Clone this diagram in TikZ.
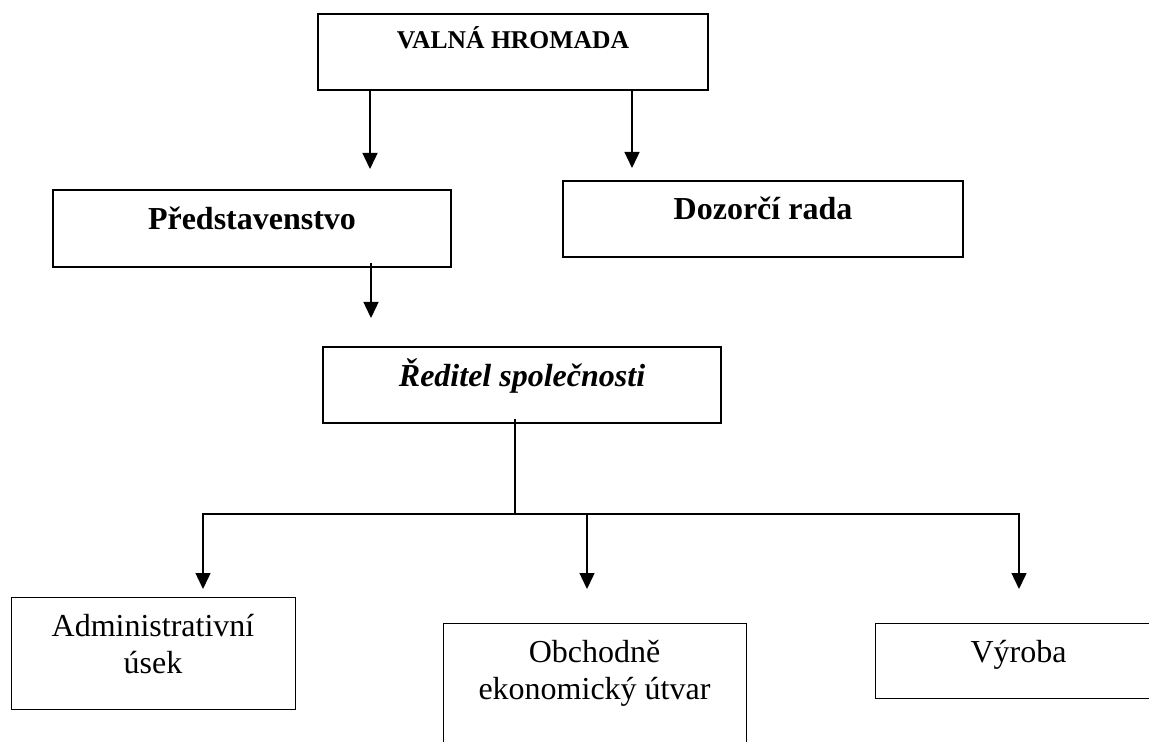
\documentclass[tikz,border=0pt]{standalone}
\usepackage{fontspec}
\setmainfont{Liberation Serif}
\usetikzlibrary{arrows.meta}
\tikzset{
    box/.style={draw, rectangle, inner sep=0pt, line width=0.7pt},
    dolni/.style={box, line width=0.5pt},
    txt/.style={anchor=base, inner sep=0pt, font=\fontsize{16}{18.5}\selectfont},
    tucny/.style={txt, font=\fontsize{16}{18.5}\selectfont\bfseries},
    spoj/.style={line width=0.7pt},
    arr/.style={spoj, -{Triangle[length=8pt, width=7.5pt]}},
}
\begin{document}
\begin{tikzpicture}[x=0.5pt, y=-0.5pt]
        \useasboundingbox (0,0) rectangle (1149,742);
        % ramecky
        \node[box, line width=1pt, minimum width=195pt, minimum height=38pt] (valna) at (513,52) {};
        \node[box, minimum width=199pt, minimum height=38.5pt] (pred) at (252,228.5) {};
        \node[box, minimum width=200pt, minimum height=38pt] (dozor) at (763,219) {};
        \node[box, minimum width=199pt, minimum height=38pt] (red) at (522,385) {};
        \node[dolni, minimum width=142pt, minimum height=56pt] (adm) at (153,653) {};
        \node[dolni, minimum width=151.5pt, minimum height=65pt] (obch) at (594.5,688) {};
        \node[dolni, minimum width=143.5pt, minimum height=37.5pt] (vyr) at (1018.5,660.5) {};
        % texty
        \node[txt, font=\fontsize{12.8}{15}\selectfont\bfseries] (valnatxt) at ([yshift=-18pt]valna.north) {VALNÁ HROMADA};
        \node[tucny] (predtxt) at ([yshift=-20pt]pred.north) {Představenstvo};
        \node[tucny] (dozortxt) at ([yshift=-19.5pt]dozor.north) {Dozorčí rada};
        \node[tucny, font=\fontsize{16}{18.5}\selectfont\bfseries\itshape] (redtxt) at ([yshift=-20pt]red.north) {Ředitel společnosti};
        \node[txt] (admtxt) at ([yshift=-20pt]adm.north) {\begin{tabular}[t]{@{}c@{}}Administrativní\\úsek\end{tabular}};
        \node[txt] (obchtxt) at ([yshift=-20pt]obch.north) {\begin{tabular}[t]{@{}c@{}}Obchodně\\ekonomický útvar\end{tabular}};
        \node[txt] (vyrtxt) at ([yshift=-20pt]vyr.north) {Výroba};
        % sipky
        \coordinate (predtip) at (370,169);
        \coordinate (dozortip) at (632,168);
        \coordinate (redtip) at (371,318);
        \draw[arr] (valna.south -| predtip) -- (predtip);
        \draw[arr] (valna.south -| dozortip) -- (dozortip);
        \draw[arr] ([yshift=2.5pt]pred.south -| redtip) -- (redtip);
        \coordinate (rozv) at (515,514);
        \coordinate (admtip) at (203,589);
        \coordinate (obchtip) at (587,589);
        \coordinate (vyrtip) at (1019,589);
        \draw[spoj] ([yshift=2.5pt]red.south -| rozv) -- (rozv);
        \draw[spoj, line cap=rect] (rozv -| admtip) -- (rozv -| vyrtip);
        \foreach \t in {admtip, obchtip, vyrtip} {
            \draw[arr] (rozv -| \t) -- (\t);
        }
\end{tikzpicture}
\end{document}
